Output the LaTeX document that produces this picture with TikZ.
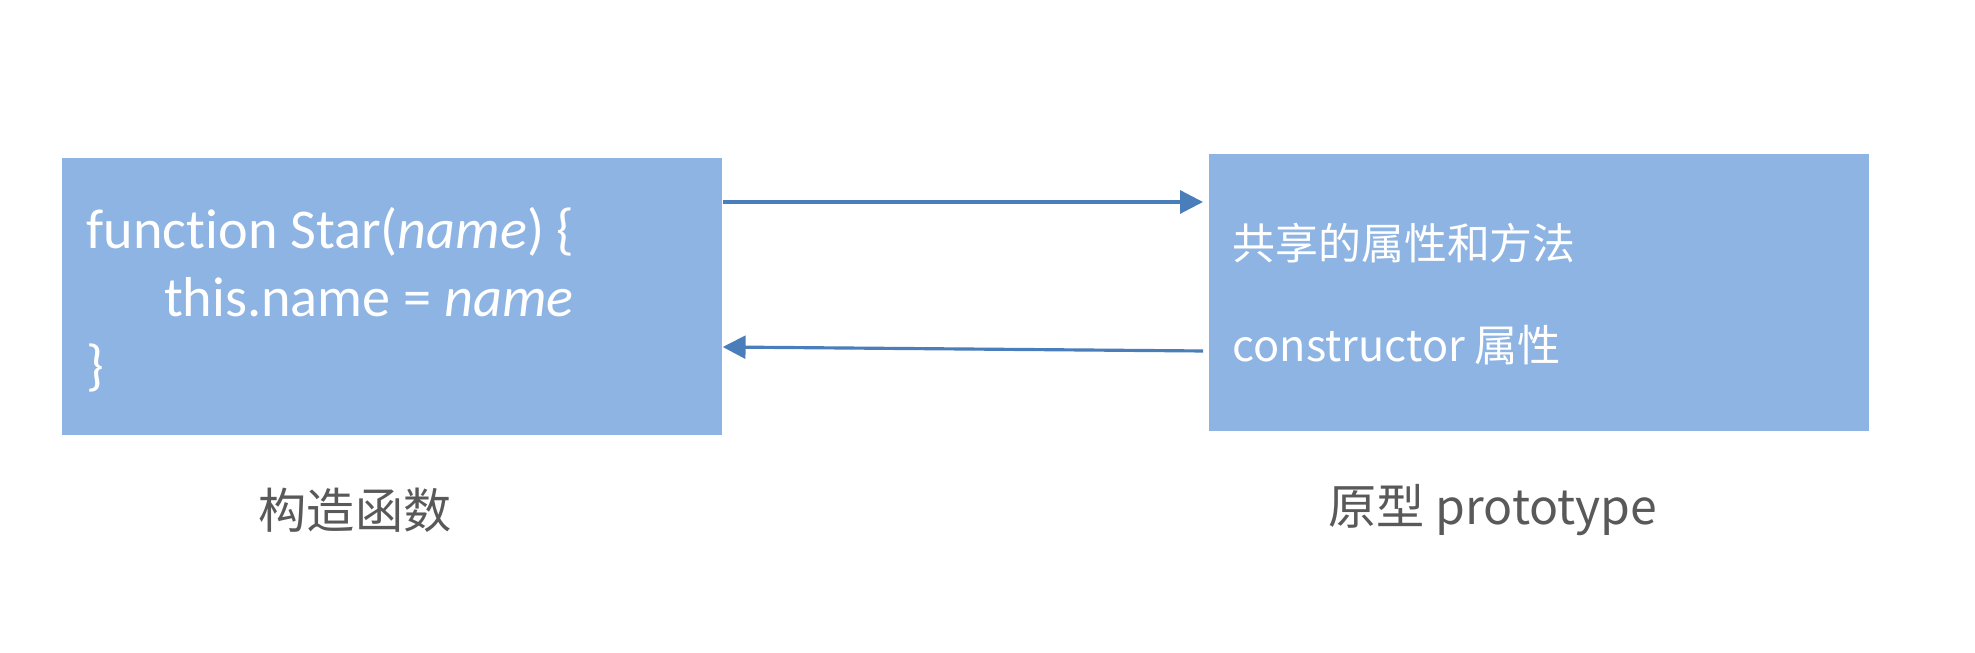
\documentclass[tikz,border=0pt]{standalone}
\usepackage{fontspec}
\setmainfont{Carlito}[Ligatures=NoCommon]
\newfontfamily\cjk{Noto Sans CJK SC}
\usetikzlibrary{arrows.meta}
\definecolor{boxblue}{HTML}{8EB4E3}
\definecolor{linkblue}{HTML}{4A7EBB}
\definecolor{capgrey}{HTML}{595959}

\begin{document}
\begin{tikzpicture}[
    objbox/.style={fill=boxblue, draw=none, minimum width=6.6cm, minimum height=2.77cm, inner sep=0pt},
    link/.style={draw=linkblue, line width=0.9pt, -{Triangle[length=6.5pt,width=6.5pt]}},
    caption/.style={text=capgrey, font=\cjk\fontsize{13.7}{16}\selectfont}
  ]
                \useasboundingbox (0,0) rectangle (19.75,6.53);
                \node[objbox] (ctor) at (3.92,3.565) {};
                \node[objbox] (proto) at (15.39,3.605) {};
                \node[anchor=west, text=white, align=left, inner sep=0pt,
                      font=\fontsize{16}{19.3}\selectfont] (code) at (0.86,3.53)
                      {function Star(\textit{name}) \{\\
                       \hspace*{22pt}this.name = \textit{name}\\
                       \}};
                \node[anchor=west, text=white, inner sep=0pt,
                      font=\cjk\fontsize{12.2}{14}\selectfont] (shared) at (12.32,4.10) {共享的属性和方法};
                \node[anchor=west, text=white, inner sep=0pt,
                      font=\cjk\fontsize{12.3}{14}\selectfont] (ctorprop) at (12.32,3.08) {constructor 属性};
                \node[caption] (ctorcap) at (3.55,1.43) {构造函数};
                \node[caption] (protocap) at (14.93,1.43) {原型 prototype};
                \coordinate (toend) at (12.03,4.51);
                \coordinate (backstart) at (12.03,3.02);
                \draw[link] (ctor.east |- toend) -- (toend);
                \draw[link] (backstart) -- ([yshift=0.04cm]ctor.east |- backstart);
\end{tikzpicture}
\end{document}
